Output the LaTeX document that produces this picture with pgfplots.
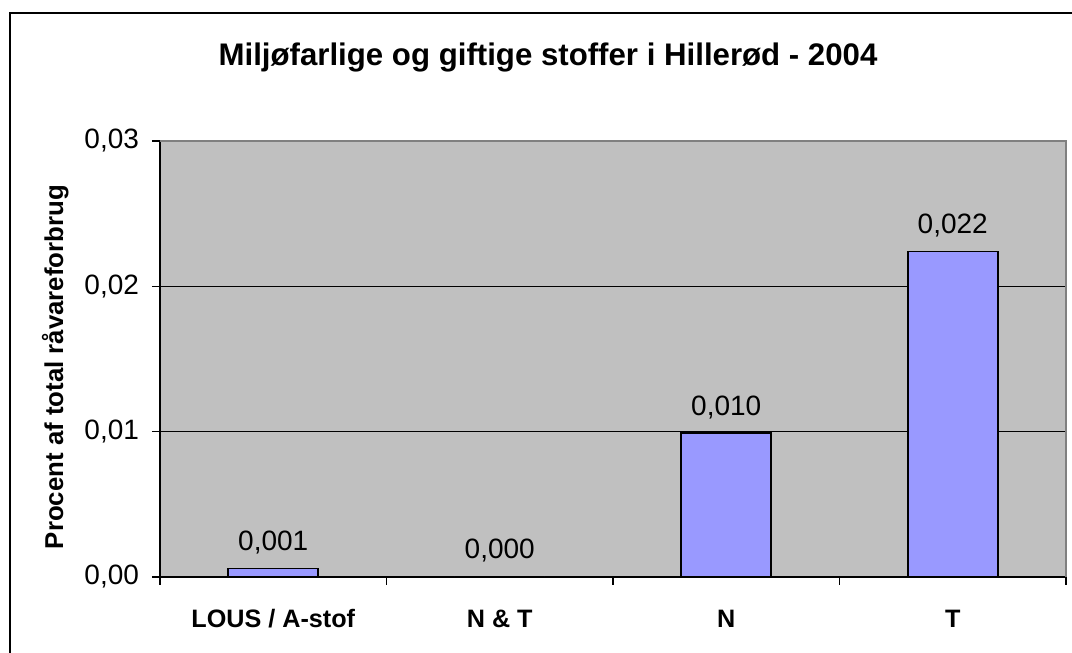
\documentclass[border=0pt]{standalone}
\usepackage{pgfplots}
\pgfplotsset{compat=1.18}
\usepackage{fontspec}
\setmainfont{Liberation Sans}
\definecolor{plotgray}{HTML}{C0C0C0}
\definecolor{bordergray}{HTML}{808080}
\definecolor{barblue}{HTML}{9999FF}
\begin{document}
\begin{tikzpicture}
\useasboundingbox (0,0) rectangle (536pt,326.5pt);
\draw[line width=1pt] (5pt,-10pt) -- (5pt,320pt) -- (560pt,320pt);
\begin{axis}[
  at={(80pt,38pt)}, anchor=south west,
  scale only axis, width=453pt, height=218pt,
  xmin=-0.5, xmax=3.5, ymin=0, ymax=0.03,
  axis x line*=bottom, axis y line*=left,
  axis line style={black, line width=0.9pt, -},
  axis background/.style={fill=plotgray},
  ytick={0,0.01,0.02,0.03},
  ymajorgrids, grid style={black, line width=0.7pt},
  xtick={0,1,2,3},
  xticklabels={LOUS / A-stof, N \& T, N, T},
  minor xtick={-0.5,0.5,1.5,2.5,3.5},
  tick align=outside,
  major tick length=4pt,
  minor tick length=4pt,
  x tick style={draw=none},
  minor x tick style={draw=black, line width=0.8pt},
  y tick style={black, line width=0.8pt},
  xticklabel style={font=\bfseries\fontsize{12.6}{14}\selectfont, anchor=base, yshift=-21.5pt},
  yticklabel style={font=\fontsize{14}{16}\selectfont, anchor=east, xshift=-3pt},
  /pgf/number format/assume math mode=true,
  yticklabel={\pgfmathprintnumber[fixed, fixed zerofill, precision=2, use comma]{\tick}},
  scaled y ticks=false,
  ybar, bar width=45pt,
  nodes near coords={\pgfmathprintnumber[fixed, fixed zerofill, precision=3, use comma, assume math mode=true]{\pgfplotspointmeta}},
  nodes near coords style={font=\fontsize{14}{16}\selectfont, anchor=base, yshift=9pt},
  clip=false,
]
\addplot[fill=barblue, draw=black, line width=0.8pt] coordinates {(0,0.00058) (1,0) (2,0.00989) (3,0.0224)};
\draw[bordergray, line width=0.9pt] (rel axis cs:0,1) -- (rel axis cs:1,1) -- (rel axis cs:1,0);
\end{axis}
\node[anchor=base, font=\bfseries\fontsize{15.6}{18}\selectfont] at (274pt,293.5pt) {Miljøfarlige og giftige stoffer i Hillerød - 2004};
\node[anchor=base, rotate=90, font=\bfseries\fontsize{12.9}{15}\selectfont] at (31.5pt,143pt) {Procent af total råvareforbrug};
\end{tikzpicture}
\end{document}
